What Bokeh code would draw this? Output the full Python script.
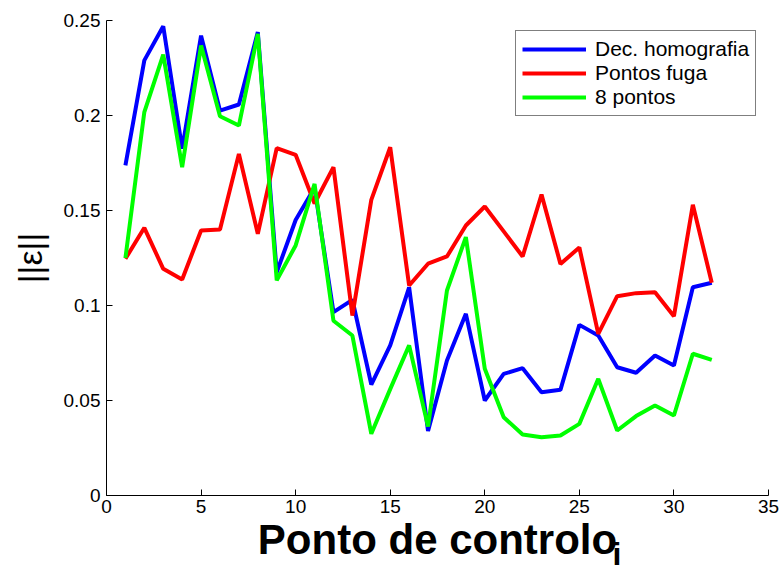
from bokeh.plotting import figure
from bokeh.models import Range1d, FixedTicker, NumeralTickFormatter, Label, Legend, LegendItem
from bokeh.embed import file_html
from bokeh.resources import INLINE

x = list(range(1, 33))
dec_homografia = [0.1737, 0.229, 0.247, 0.1825, 0.242, 0.2026, 0.2058, 0.2439,
                  0.1175, 0.145, 0.162, 0.0965, 0.103, 0.0584, 0.079, 0.1096,
                  0.0339, 0.071, 0.0956, 0.050, 0.064, 0.067, 0.0544, 0.0556,
                  0.0898, 0.0842, 0.0675, 0.0646, 0.0737, 0.0684, 0.1096, 0.112]
pontos_fuga = [0.1246, 0.1409, 0.1193, 0.1137, 0.1395, 0.140, 0.1798, 0.1377,
               0.1828, 0.1793, 0.1537, 0.1728, 0.0947, 0.1556, 0.1833, 0.1105,
               0.122, 0.1258, 0.1421, 0.1521, 0.139, 0.1258, 0.1584, 0.1219,
               0.1305, 0.0851, 0.1049, 0.1065, 0.107, 0.0944, 0.153, 0.112]
oito_pontos = [0.125, 0.2018, 0.232, 0.1728, 0.2368, 0.1996, 0.1947, 0.243,
               0.1132, 0.1316, 0.164, 0.092, 0.0842, 0.0325, 0.056, 0.079,
               0.0363, 0.1079, 0.136, 0.0667, 0.0412, 0.0321, 0.0307, 0.0316,
               0.0377, 0.0614, 0.0342, 0.0418, 0.0474, 0.0421, 0.0746, 0.0714]
series_names = ["Dec. homografia", "Pontos fuga", "8 pontos"]
x_ticks = [0, 5, 10, 15, 20, 25, 30, 35]
y_ticks = [0, 0.05, 0.1, 0.15, 0.2, 0.25]

FONT = "Liberation Sans"

p = figure(width=783, height=571, output_backend="svg", toolbar_location=None,
           x_range=Range1d(0, 35), y_range=Range1d(0, 0.25),
           min_border_left=106, min_border_right=15, min_border_top=20, min_border_bottom=76)
p.outline_line_color = None
p.grid.visible = False
p.background_fill_color = "white"

r1 = p.line(x, dec_homografia, line_color="#0000FF", line_width=4)
r2 = p.line(x, pontos_fuga, line_color="#FF0000", line_width=4)
r3 = p.line(x, oito_pontos, line_color="#00FF00", line_width=4)

for ax in (p.xaxis[0], p.yaxis[0]):
    ax.major_tick_in = 6
    ax.major_tick_out = 0
    ax.minor_tick_line_color = None
    ax.axis_line_color = "black"
    ax.major_tick_line_color = "black"
    ax.major_label_text_font = FONT
    ax.major_label_text_font_size = "19px"
    ax.major_label_text_color = "black"

p.xaxis.ticker = FixedTicker(ticks=x_ticks)
p.yaxis.ticker = FixedTicker(ticks=y_ticks)
p.yaxis.formatter = NumeralTickFormatter(format="0.[00]")
p.xaxis.major_label_standoff = 4
p.yaxis.major_label_standoff = 6

p.xaxis.axis_label = "Ponto de controlo"
p.xaxis.axis_label_text_font = FONT
p.xaxis.axis_label_text_font_style = "bold"
p.xaxis.axis_label_text_font_size = "42px"
p.xaxis.axis_label_text_color = "black"
p.xaxis.axis_label_standoff = 0

p.yaxis.axis_label = "||ε||"
p.yaxis.axis_label_text_font = FONT
p.yaxis.axis_label_text_font_style = "normal"
p.yaxis.axis_label_text_font_size = "34px"
p.yaxis.axis_label_text_color = "black"
p.yaxis.axis_label_standoff = 12

# subscript "i" of the x-axis label; placed in a side panel so it is not clipped to the frame
sub = Label(x=26.75, y=-0.0400, text="i", text_font=FONT,
            text_font_style="bold", text_font_size="32px", text_color="black",
            text_baseline="bottom", text_align="left")
p.add_layout(sub, "right")

legend = Legend(items=[LegendItem(label=series_names[0], renderers=[r1]),
                       LegendItem(label=series_names[1], renderers=[r2]),
                       LegendItem(label=series_names[2], renderers=[r3])],
                location=(409, 379))
legend.label_text_font = FONT
legend.label_text_font_size = "21px"
legend.label_text_color = "black"
legend.glyph_width = 64
legend.glyph_height = 20
legend.label_height = 20
legend.spacing = 0
legend.padding = 6
legend.label_standoff = 9
legend.margin = 0
legend.border_line_color = "black"
legend.border_line_width = 1
legend.background_fill_alpha = 1
p.add_layout(legend)

open("out.html", "w").write(file_html(p, INLINE))
